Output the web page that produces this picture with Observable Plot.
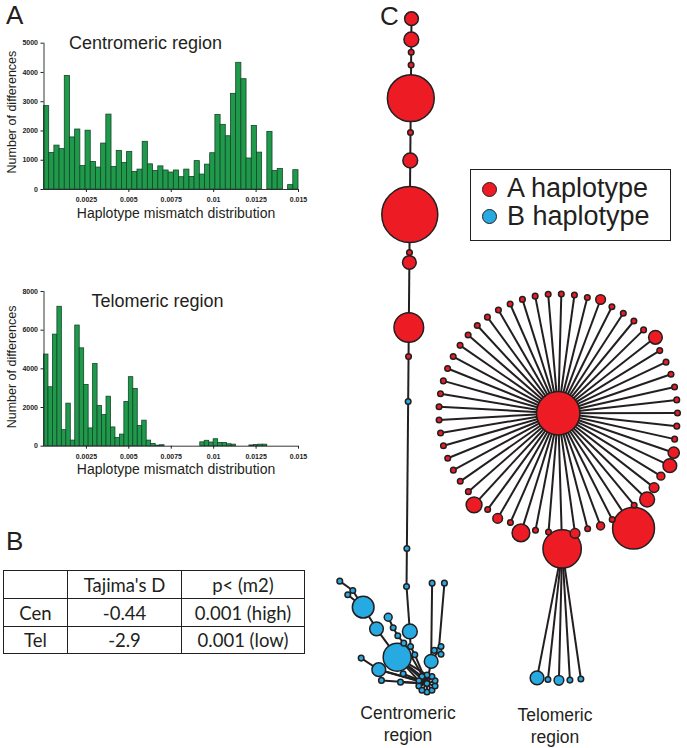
<!DOCTYPE html>
<html><head><meta charset="utf-8">
<script src="https://cdn.jsdelivr.net/npm/d3@7"></script>
<script src="https://cdn.jsdelivr.net/npm/@observablehq/plot@0.6"></script>
<style>
body{margin:0;background:#fff;}
#fig{position:relative;width:687px;height:748px;overflow:hidden;font-family:"Liberation Sans",Arial,Helvetica,sans-serif;color:#231f20;background:#fff;}
.abs{position:absolute;}
.panel{font-size:26px;line-height:26px;}
.netlabel{font-size:17.5px;line-height:22px;text-align:center;width:120px;}
#tbl table{border-collapse:collapse;font-family:Lato,"Open Sans",sans-serif;font-size:18.5px;color:#231f20;}
#tbl td{border:1.3px solid #231f20;text-align:center;padding:0;}
#legend{border:1px solid #231f20;width:199px;height:70px;}
.leg{position:absolute;left:36px;font-size:27px;line-height:27px;white-space:nowrap;}
.sw{position:absolute;left:11px;width:13px;height:13px;border-radius:50%;border:1.5px solid #231f20;}
</style></head><body><div id="fig">
<div id="net" class="abs" style="left:0;top:0"></div>
<div id="cen" class="abs" style="left:0;top:0"></div>
<div id="tel" class="abs" style="left:0;top:255px"></div>
<div class="abs panel" style="left:6px;top:2px">A</div>
<div class="abs panel" style="left:6px;top:528px">B</div>
<div class="abs panel" style="left:380px;top:3px">C</div>
<div id="tbl" class="abs" style="left:3px;top:570px"></div>
<div id="legend" class="abs" style="left:470px;top:169px"></div>
<div class="abs netlabel" style="left:348px;top:702px">Centromeric<br>region</div>
<div class="abs netlabel" style="left:495px;top:704px">Telomeric<br>region</div>
</div>
<script>
// ---------- Panel A data ----------
const cenCounts = [2850,1250,1500,1380,3880,1780,2050,800,2010,940,750,1570,2560,770,1320,910,1280,600,680,1630,860,630,790,650,580,650,420,680,430,970,510,850,1240,2550,2210,1820,3270,4330,3770,1060,2170,1260,0,1970,630,700,0,150,660];
const telCounts = [4740,3050,5770,7210,830,2200,290,6240,5060,3170,920,4250,2080,1610,2560,970,430,600,2290,3570,2960,1040,1320,290,120,30,50,0,0,0,0,0,0,0,0,200,280,190,360,170,170,100,80,0,0,0,40,60,80,80,0,0,0,0,0,0,0];
const xTickValues = [0.0025,0.005,0.0075,0.01,0.0125,0.015];
const cenYTicks = [0,1000,2000,3000,4000,5000];
const telYTicks = [0,2000,4000,6000,8000];
const histTitles = ["Centromeric region","Telomeric region"];
const xLabel = "Haplotype mismatch distribution";
const yLabel = "Number of differences";

// ---------- Panel B data ----------
const tableHeader = ["", "Tajima's D", "p< (m2)"];
const tableRowLabels = ["Cen","Tel"];
const tajimaD = ["-0.44","-2.9"];
const pValues = ["0.001 (high)","0.001 (low)"];

// ---------- Panel C data ----------
const legendLabels = ["A haplotype","B haplotype"];
const haplotypes = ["A","B"];
// centromeric chain: branch lengths between successive haplotypes, frequencies, haplotype group
const cenChainSteps = [20.8,12.7,12.9,33.1,34.3,28,54,38,10,65,29,45,147,38];
const cenChainFreq  = [6,7,1,1,70,1,7,100,1,6,28,1,1,1,1];
const cenChainHap   = ["A","A","A","A","A","A","A","A","A","A","A","A","B","B","B"];
// centromeric B-cluster: [id, parent, direction (deg), branch length, frequency]
const cenBranches = [
  ["c16","c15",4.2,45.1,7],["c17","c16",2.7,15,1],["c18","c17",27,9.3,1],["h","c18",23,31.2,1],
  ["L5","h",228.6,39.7,25],["L4","L5",216.1,35.1,6],["L3","L4",211.6,25.4,15],["L2","L3",211.9,19.7,1],
  ["L1","L2",234.4,16,1],["L2b","L3",231.2,19.8,1],
  ["M4","h",209.9,46.5,1],["M3","M4",219.1,9.5,1],["M2","M3",210,9.2,1],["M1","M2",205.3,11.7,2],
  ["D2","h",254.1,50.1,6],["D1","D2",236.6,21.1,1],["E1","h",266.2,45.6,1],["F1","h",267.2,26.5,1],
  ["G1","h",247.8,25.7,1],["R1","h",169.2,22.4,6],["R2","R1",179.3,78.3,1],["R4","R1",145.4,13.4,1],
  ["R3","R4",175.2,67.5,1]
];
const hubRingCount = 10;
const r4RingCount = 3;
const cenExtraEdges = [["L5","ring6"],["L5","ring7"],["L5","ring5"],["D2","ring7"]];
// telomeric star: central haplotype frequency and the 57 one-step leaves (clockwise from top)
const starCenterFreq = 60;
const starLeafFreq = [1,1,1,3,1,1,1,1,6,1, 1,1,1,1,1,1,1,4,6,2, 3,7,1,56,1,2,1,3,47,1, 1,10,1,3,1,8,1,1,1,1, 1,1,1,1,1,1,1,1,1,1, 1,1,1,1,1,1,1];
const telFanParent = 28;
const telFanFreq = [6,1,3,1,1];

const FONT = '"Liberation Sans", Arial, Helvetica, sans-serif';
const GREEN = "#1f9a4b", GEDGE = "#15452a", INK = "#231f20";
const RED = "#ed1c24", BLUE = "#27aae1";

// ---------- Histograms ----------
function histogram({counts, yMax, yTicks, title, height, marginTop, marginBottom, titleDx, titleDy, xLabelDy, yLabelDy}) {
  const n = counts.length, w = 0.015 / n;
  const bins = counts.map((c, i) => ({x1: i * w, x2: (i + 1) * w, count: c})).filter(d => d.count > 0);
  return Plot.plot({
    width: 310, height, marginLeft: 43.5, marginRight: 12, marginTop, marginBottom,
    style: {fontFamily: FONT, fontSize: "7px", fontWeight: "bold", color: INK, background: "transparent", overflow: "visible"},
    x: {domain: [0, 0.015]},
    y: {domain: [0, yMax]},
    marks: [
      Plot.rectY(bins, {x1: "x1", x2: "x2", y: "count", fill: GREEN, stroke: GEDGE, strokeWidth: 0.8}),
      Plot.ruleY([0], {stroke: INK, strokeWidth: 0.9}),
      Plot.ruleX([0], {stroke: INK, strokeWidth: 0.9}),
      Plot.axisX({ticks: xTickValues, tickFormat: d => String(d), tickSize: 3, tickPadding: 5, label: null, fill: "#222"}),
      Plot.axisY({ticks: yTicks, tickFormat: d => String(d), tickSize: 3, tickPadding: 3, label: null, fill: "#222"}),
      Plot.text([title], {text: d => d, frameAnchor: "top", textAnchor: "middle", dx: titleDx, dy: titleDy, lineAnchor: "bottom", fontSize: 18, fontWeight: "normal", fill: INK}),
      Plot.text([xLabel], {text: d => d, frameAnchor: "bottom", textAnchor: "middle", dx: 4.75, dy: xLabelDy, lineAnchor: "bottom", fontSize: 14, fontWeight: "normal", fill: INK}),
      Plot.text([yLabel], {text: d => d, frameAnchor: "left", textAnchor: "middle", rotate: -90, dx: -32.5, dy: yLabelDy, fontSize: 12.5, fontWeight: "normal", fill: INK})
    ]
  });
}
document.getElementById("cen").append(histogram({counts: cenCounts, yMax: 5000, yTicks: cenYTicks, title: histTitles[0],
  height: 225, marginTop: 42.7, marginBottom: 36, titleDx: -25.75, titleDy: 6, xLabelDy: 28, yLabelDy: -4.3}));
document.getElementById("tel").append(histogram({counts: telCounts, yMax: 8000, yTicks: telYTicks, title: histTitles[1],
  height: 225, marginTop: 36, marginBottom: 34.3, titleDx: -13.75, titleDy: 15.5, xLabelDy: 27.5, yLabelDy: -1.9}));

// ---------- Table ----------
{
  const rows = [tableHeader, ...tableRowLabels.map((l, i) => [l, tajimaD[i], pValues[i]])];
  const widths = [63, 113, 122], heights = [27, 27, 26];
  const t = document.createElement("table");
  rows.forEach((r, i) => {
    const tr = document.createElement("tr");
    r.forEach((c, j) => { const td = document.createElement("td"); td.textContent = c; td.style.width = widths[j] + "px"; td.style.height = heights[i] + "px"; tr.append(td); });
    t.append(tr);
  });
  document.getElementById("tbl").append(t);
}

// ---------- Legend ----------
{
  const lg = document.getElementById("legend");
  const colors = {A: RED, B: BLUE};
  legendLabels.forEach((l, i) => {
    const sw = document.createElement("div"); sw.className = "sw"; sw.style.top = (12 + i * 27) + "px"; sw.style.background = colors[haplotypes[i]]; lg.append(sw);
    const tx = document.createElement("div"); tx.className = "leg"; tx.style.top = (5 + i * 28) + "px"; tx.textContent = l; lg.append(tx);
  });
}

// ---------- Networks ----------
const rScale = d3.scaleSqrt().domain([0, 100]).range([0, 28]);
const RAD = Math.PI / 180;
// centromeric network
const cenNodes = [];
const byId = new Map();
function addNode(n) { cenNodes.push(n); byId.set(n.id, n); }
function place(n, parentId, angle, len) {
  const p = byId.get(parentId);
  n.x = p.x + len * Math.sin(angle * RAD);
  n.y = p.y + len * Math.cos(angle * RAD);
}
const CHAIN_ROOT = [411, 18.2], CHAIN_DIR = -0.5;
cenChainFreq.forEach((f, i) => {
  const n = {id: "c" + (i + 1), freq: f, hap: cenChainHap[i], parent: i ? "c" + i : null};
  if (i === 0) { n.x = CHAIN_ROOT[0]; n.y = CHAIN_ROOT[1]; } else place(n, n.parent, CHAIN_DIR, cenChainSteps[i - 1]);
  addNode(n);
});
cenBranches.forEach(([id, parent, a, len, f]) => { const n = {id, parent, freq: f, hap: "B"}; place(n, parent, a, len); addNode(n); });
for (let i = 0; i < hubRingCount; i++) { const n = {id: "ring" + i, parent: "h", freq: 1, hap: "B"}; place(n, "h", i * 360 / hubRingCount, 8.5); addNode(n); }
for (let i = 0; i < r4RingCount; i++) { const n = {id: "rr" + i, parent: "R4", freq: 1, hap: "B"}; place(n, "R4", 30 + i * 360 / r4RingCount, 4.5); addNode(n); }
const cenEdges = cenNodes.filter(n => n.parent).map(n => ({a: byId.get(n.parent), b: n}))
  .concat(cenExtraEdges.map(([p, c]) => ({a: byId.get(p), b: byId.get(c)})));

// telomeric star
const STAR_CENTER = [557.7, 412.7], STAR_START = 1.5, SPOKE = 116.5;
const star = {x: STAR_CENTER[0], y: STAR_CENTER[1], freq: starCenterFreq, hap: "A"};
const leaves = starLeafFreq.map((f, i) => {
  const th = (STAR_START + i * 360 / starLeafFreq.length) * RAD, d = SPOKE + rScale(f);
  return {x: star.x + d * Math.sin(th), y: star.y - d * Math.cos(th), freq: f, hap: "A"};
});
const tp = leaves[telFanParent];
const fan = telFanFreq.map((f, j) => {
  const a = (-11 + j * 4.8) * RAD, len = 131.5;
  return {x: tp.x + len * Math.sin(a), y: tp.y + len * Math.cos(a), freq: f, hap: "B"};
});
const telNodes = [star, ...leaves, ...fan];
const telEdges = leaves.map(l => ({a: star, b: l})).concat(fan.map(f => ({a: tp, b: f})));

const allNodes = cenNodes.concat(telNodes);
const allEdges = cenEdges.concat(telEdges);

document.getElementById("net").append(Plot.plot({
  width: 687, height: 748, margin: 0,
  x: {domain: [0, 687], range: [0, 687]},
  y: {domain: [0, 748], range: [0, 748]},
  r: {type: "sqrt", domain: [0, 100], range: [0, 28]},
  color: {domain: haplotypes, range: [RED, BLUE]},
  axis: null,
  style: {background: "transparent"},
  marks: [
    Plot.link(allEdges, {x1: d => d.a.x, y1: d => d.a.y, x2: d => d.b.x, y2: d => d.b.y, stroke: INK, strokeWidth: 2}),
    Plot.dot(allNodes, {x: "x", y: "y", r: "freq", fill: "hap", stroke: INK, strokeWidth: 1.5})
  ]
}));
</script></body></html>
